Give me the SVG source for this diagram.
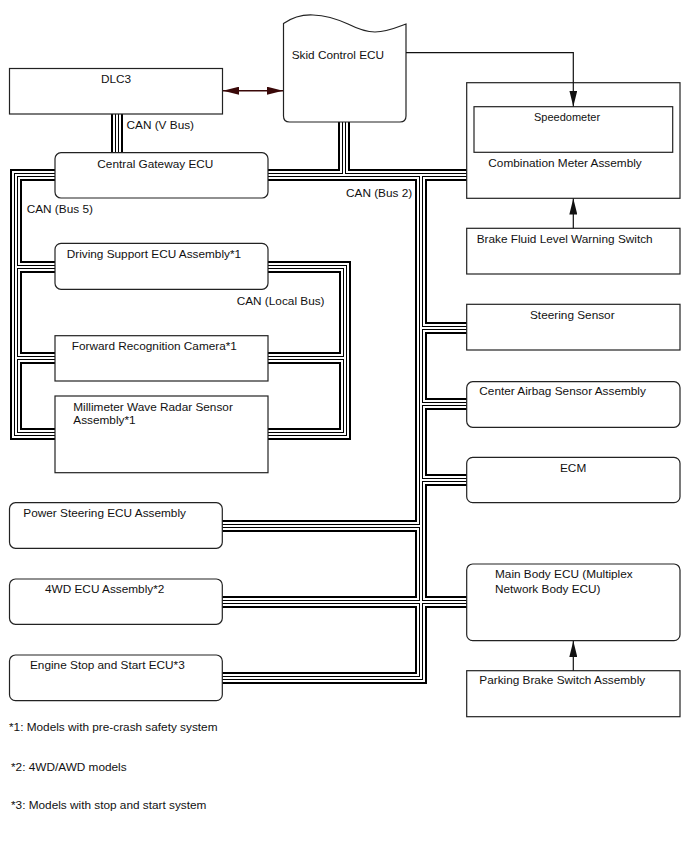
<svg xmlns="http://www.w3.org/2000/svg" xmlns:xlink="http://www.w3.org/1999/xlink" width="688" height="852" viewBox="0 0 688 852">
<style>
text{font-family:"Liberation Sans",Arial,sans-serif;font-size:11.8px;fill:#111}
.sm{font-size:11px}
.box{fill:#fff;stroke:#222;stroke-width:1.2}
.arr{fill:none;stroke:#111;stroke-width:1.2}
</style>
<defs>
<g id="bus" fill="none" stroke-linejoin="miter" stroke-linecap="butt">
<path d="M262,175 H473"/>
<path d="M344,116 V175"/>
<path d="M421,175 V678 H216"/>
<path d="M421,328 H473"/>
<path d="M421,404 H473"/>
<path d="M421,480 H473"/>
<path d="M216,602 H473"/>
<path d="M421,526 H216"/>
<path d="M61,175 H16 V434 H61"/>
<path d="M16,267 H61"/>
<path d="M16,358 H61"/>
<path d="M262,267 H345 V434 H262"/>
<path d="M345,358 H262"/>
<path d="M117,108 V158"/>
</g>
<marker id="ah" viewBox="0 0 16 8" refX="16" refY="4" markerWidth="16" markerHeight="8" markerUnits="userSpaceOnUse" orient="auto-start-reverse"><path d="M0,0 L16,4 L0,8 Z" fill="#111"/></marker>
<marker id="ahr" viewBox="0 0 16 8" refX="16" refY="4" markerWidth="16" markerHeight="8" markerUnits="userSpaceOnUse" orient="auto-start-reverse"><path d="M0,0 L16,4 L0,8 Z" fill="#3a0808"/></marker>
</defs>
<g id="bus-connectors">
<use xlink:href="#bus" href="#bus" stroke="#000" stroke-width="12"/>
<use xlink:href="#bus" href="#bus" stroke="#fff" stroke-width="8"/>
<use xlink:href="#bus" href="#bus" stroke="#000" stroke-width="4"/>
<use xlink:href="#bus" href="#bus" stroke="#fff" stroke-width="2"/>
</g>
<g id="dlc3"><rect class="box" x="9.5" y="68.5" width="213" height="45.5"/><text x="101" y="83.3">DLC3</text></g>
<g id="skid"><path class="box" d="M283.5,23.5 C293,17 303,14.5 313,15 C325,15.5 337,19 348,24 C358,29 366,32 375,32 C387,32 398,27 406,24 V116 Q406,122 400,122 H289.5 Q283.5,122 283.5,116 Z"/><text x="291.7" y="59">Skid Control ECU</text></g>
<g id="combo"><rect class="box" x="466.7" y="82.7" width="213.3" height="115.6"/><rect class="box" x="474" y="106.7" width="198.7" height="45.6"/><text class="sm" x="534" y="120.5">Speedometer</text><text x="488.3" y="167.3">Combination Meter Assembly</text></g>
<g id="gateway"><rect class="box" x="55" y="152.7" width="213" height="45.3" rx="6"/><text x="97.3" y="167.7">Central Gateway ECU</text></g>
<g id="brake-fluid"><rect class="box" x="466.7" y="228.3" width="213.3" height="45.7"/><text x="476.7" y="242.7">Brake Fluid Level Warning Switch</text></g>
<g id="steering"><rect class="box" x="466.7" y="304.3" width="213.3" height="45.7"/><text x="530" y="319">Steering Sensor</text></g>
<g id="airbag"><rect class="box" x="466.7" y="381.7" width="213.3" height="45.6" rx="6"/><text x="479.3" y="395">Center Airbag Sensor Assembly</text></g>
<g id="ecm"><rect class="box" x="466.7" y="457.3" width="213.3" height="45.4" rx="6"/><text x="560" y="471.7">ECM</text></g>
<g id="main-body"><rect class="box" x="466.7" y="564" width="213.3" height="76.7" rx="6"/><text x="495" y="578.3">Main Body ECU (Multiplex</text><text x="495" y="592.7">Network Body ECU)</text></g>
<g id="parking"><rect class="box" x="466.7" y="670.7" width="213.3" height="46"/><text x="479.3" y="684.3">Parking Brake Switch Assembly</text></g>
<g id="driving"><rect class="box" x="55" y="243.3" width="213" height="46" rx="6"/><text x="66.7" y="258.3">Driving Support ECU Assembly*1</text></g>
<g id="camera"><rect class="box" x="55" y="335.7" width="213" height="45.3"/><text x="71.7" y="350">Forward Recognition Camera*1</text></g>
<g id="radar"><rect class="box" x="55" y="396" width="213" height="76.7"/><text x="73.3" y="410.7">Millimeter Wave Radar Sensor</text><text x="73.3" y="424.3">Assembly*1</text></g>
<g id="power-steering"><rect class="box" x="9.5" y="502.7" width="212.8" height="45.6" rx="6"/><text x="23.3" y="516.7">Power Steering ECU Assembly</text></g>
<g id="4wd"><rect class="box" x="9.5" y="579" width="212.8" height="45.3" rx="6"/><text x="45" y="593.3">4WD ECU Assembly*2</text></g>
<g id="engine-stop"><rect class="box" x="9.5" y="655" width="212.8" height="45.7" rx="6"/><text x="30" y="669">Engine Stop and Start ECU*3</text></g>
<g id="arrow-connectors">
<path class="arr" d="M406,52.7 H573.3 V106.5" marker-end="url(#ah)"/>
<path class="arr" d="M573.3,228.3 V198.5" marker-end="url(#ah)"/>
<path class="arr" d="M573.3,670.7 V641" marker-end="url(#ah)"/>
<path d="M223,90.7 H283" fill="none" stroke="#3a0808" stroke-width="1.5" marker-start="url(#ahr)" marker-end="url(#ahr)"/>
</g>
<g id="labels">
<text x="126.5" y="129.3">CAN (V Bus)</text>
<text x="26.7" y="213.3">CAN (Bus 5)</text>
<text x="346" y="196.5">CAN (Bus 2)</text>
<text x="236.7" y="305">CAN (Local Bus)</text>
<text x="9" y="731">*1: Models with pre-crash safety system</text>
<text x="11" y="771">*2: 4WD/AWD models</text>
<text x="11" y="809">*3: Models with stop and start system</text>
</g>
</svg>
